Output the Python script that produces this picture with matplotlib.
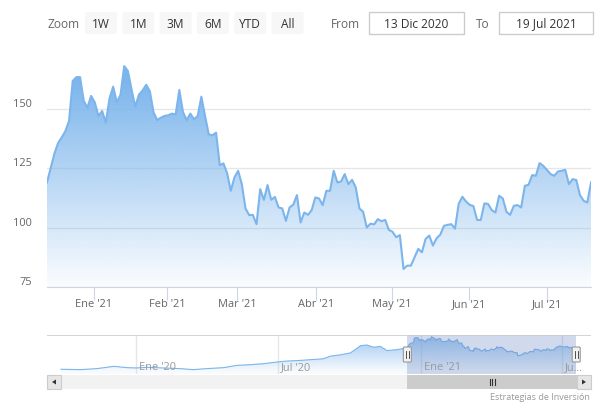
import numpy as np
import pandas as pd
import matplotlib
matplotlib.use('Agg')
from matplotlib import pyplot as plt
from matplotlib import colors as mcolors, dates as mdates, transforms as mtrans
from matplotlib.patches import Rectangle, FancyBboxPatch, Polygon

plt.rcParams['font.family'] = ['Open Sans', 'DejaVu Sans']

# daily closes shown in the main chart (14 Dec 2020 - 19 Jul 2021)
price = [119, 125, 131, 135.5, 137.9, 140.5, 144.8, 161.6, 163.2, 163.2,
         153.2, 150.4, 155.3, 152.6, 146.9, 149, 144.1, 154.2, 159.2, 152.6,
         155.8, 167.8, 165.8, 158.1, 150.8, 155.8, 157.6, 160, 157.2, 148.3,
         145.2, 146.2, 146.9, 147.2, 147.9, 147.5, 157.8, 148.5, 145.2, 147.9,
         145.5, 146.9, 155, 146.9, 139.2, 138.8, 139.9, 126.2, 127, 122.9,
         115.5, 121.1, 123.9, 118.3, 108.1, 105.3, 105.4, 101.5, 116.2, 111.7,
         117.9, 111.7, 112.9, 108.5, 108.1, 102.9, 108.5, 109.7, 113.7, 102.2,
         106.4, 105.4, 107.4, 112.7, 112.3, 109.5, 115.5, 115.5, 123.9, 119,
         119.4, 122.5, 118.3, 120.1, 116.9, 108.1, 106.7, 100.1, 101.7, 101.4,
         103.6, 102.7, 103.3, 99.1, 98.3, 96, 96.9, 82.7, 84.1, 84.1,
         87.6, 91.1, 89.7, 95.3, 96.7, 92.5, 95.6, 97.1, 100.8, 101.2,
         101.5, 99.6, 110, 113, 111, 109.6, 109.1, 103.3, 103.2, 110.2,
         110, 107.4, 106.4, 113.4, 112.3, 106.7, 105.4, 109.2, 109.5, 108.5,
         117.6, 118, 122.1, 121.8, 127.1, 126, 124.3, 122.5, 121.8, 123.6,
         123.9, 124.3, 118.3, 120.4, 120, 113.7, 111.3, 110.6, 119]
start, end = '2020-12-14', '2021-07-19'
holidays = ['2020-12-25', '2021-01-01', '2021-01-18', '2021-02-15',
            '2021-04-02', '2021-05-31', '2021-07-05']
month_labels = ["Ene '21", "Feb '21", "Mar '21", "Abr '21", "May '21", "Jun '21", "Jul '21"]
month_pos = [12.8, 32.6, 51.7, 73.1, 93.9, 114.8, 136.1]
y_ticks = [75, 100, 125, 150]

# older history only visible in the navigator
hist_dates = ['2019-09-26', '2019-10-21', '2019-11-11', '2019-12-03', '2019-12-20',
              '2020-01-01', '2020-01-14', '2020-02-05', '2020-02-26', '2020-03-14',
              '2020-03-31', '2020-04-22', '2020-05-09', '2020-05-26', '2020-06-12',
              '2020-06-29', '2020-07-12', '2020-07-29', '2020-08-16', '2020-08-28',
              '2020-09-06', '2020-09-19', '2020-10-02', '2020-10-15', '2020-10-23',
              '2020-11-01', '2020-11-09', '2020-11-18', '2020-12-01', '2020-12-10']
hist_vals = [22.4, 20.9, 25.3, 35.6, 29.7, 28.3, 31.2, 28.3, 25.3, 20.9,
             25.3, 29.7, 40, 42.9, 47.3, 54.7, 59.1, 62, 66.4, 69.3,
             81.1, 87, 95.7, 128, 131, 120.7, 125.1, 106, 110.4, 116.3]
nav_ticks = ['2020-01-01', '2020-07-01', '2021-01-01', '2021-07-01']
nav_labels = ["Ene '20", "Jul '20", "Ene '21", "Ju..."]

buttons = ['1W', '1M', '3M', '6M', 'YTD', 'All']
date_from, date_to = '13 Dic 2020', '19 Jul 2021'
credit = 'Estrategias de Inversión'

W, H = 599, 410
fig = plt.figure(figsize=(W / 100, H / 100), dpi=100)


def px(l, t, r, b):
    return [l / W, 1 - b / H, (r - l) / W, (b - t) / H]


line_c = '#7cb5ec'


def grad_area(ax, x, y, base, top, a_lo, a_hi, v_lo, v_hi):
    verts = np.column_stack([np.r_[x[0], x, x[-1]], np.r_[base, y, base]])
    clip = Polygon(verts, closed=True, transform=ax.transData)
    yy = np.linspace(top, base, 300)
    g = np.zeros((300, 1, 4))
    g[:, 0, :3] = mcolors.to_rgb(line_c)
    g[:, 0, 3] = a_lo + (a_hi - a_lo) * np.clip((yy - v_lo) / (v_hi - v_lo), 0, 1)
    im = ax.imshow(g, aspect='auto', extent=[x[0], x[-1], base, top],
                   origin='upper', zorder=1, interpolation='bilinear')
    im.set_clip_path(clip)


# ---- main chart
ax = fig.add_axes(px(47, 50, 591, 288.3))
x = np.arange(len(price))
grad_area(ax, x, price, 75, 175, 0.0, 1.0, 72, 162)
ax.plot(x, price, color=line_c, lw=1.5, zorder=3, solid_joinstyle='round')
ax.set_xlim(0, len(price) - 1)
ax.set_ylim(75, 175)
ax.set_yticks(y_ticks)
ax.set_yticklabels([])
ax.yaxis.grid(True, color='#e6e6e6', lw=1)
ax.set_axisbelow(True)
ax.tick_params(axis='y', length=0)
for s in ['top', 'right', 'left']:
    ax.spines[s].set_visible(False)
ax.spines['bottom'].set_color('#ccd6eb')
ax.set_xticks(month_pos, month_labels)
ax.tick_params(axis='x', length=9, color='#ccd6eb', labelcolor='#666666',
               labelsize=7.9, pad=-1)
lab_tr = mtrans.offset_copy(ax.get_yaxis_transform(), fig=fig, x=-15, y=0, units='dots')
for v in y_ticks:
    ax.text(0, v, str(v), transform=lab_tr, ha='right', va='bottom',
            color='#666666', fontsize=7.9)

# ---- navigator
dates = pd.bdate_range(start, end, freq='C', holidays=holidays)
nav_x = mdates.date2num(pd.to_datetime(hist_dates + list(dates)))
nav_y = np.array(hist_vals + price)
nav = fig.add_axes(px(47, 335.7, 591, 375.3))
grad_area(nav, nav_x, nav_y, 0, 177, 0.05, 0.75, 10, 170)
nav.plot(nav_x, nav_y, color=line_c, lw=0.8, zorder=3)
nav.set_xlim(mdates.date2num(pd.Timestamp('2019-09-08')),
             mdates.date2num(pd.Timestamp('2021-08-07')))
nav.set_ylim(0, 177)
nav.set_xticks([])
nav.set_yticks([])
for s in nav.spines.values():
    s.set_visible(False)
nav.axhline(177, color='#cccccc', lw=1.2, zorder=5)
sel0, sel1 = mdates.date2num(dates[0]), mdates.date2num(dates[-1])
nav.axvspan(sel0, sel1, color=(102 / 255, 133 / 255, 194 / 255, 0.3), lw=0, zorder=4)
lbl_tr = mtrans.offset_copy(nav.get_xaxis_transform(), fig=fig, x=3, y=0, units='dots')
for d, lab in zip(nav_ticks, nav_labels):
    xd = mdates.date2num(pd.Timestamp(d))
    nav.axvline(xd, color='#e6e6e6', lw=1, zorder=0)
    nav.text(xd, 0.2, lab, transform=lbl_tr, ha='left', va='center',
             color='#999999', fontsize=7.9, zorder=6)

# ---- overlay in pixel coordinates (toolbar, scrollbar, handles)
ov = fig.add_axes([0, 0, 1, 1], zorder=10)
ov.set_xlim(0, W)
ov.set_ylim(H, 0)
ov.axis('off')
ov.patch.set_alpha(0)

ov.text(47, 24, 'Zoom', ha='left', va='center', color='#666666', fontsize=8.6)
for i, b in enumerate(buttons):
    bx = 85 + i * 37.3
    ov.add_patch(FancyBboxPatch((bx, 13), 32, 22, boxstyle='round,pad=0,rounding_size=2',
                                fc='#f7f7f7', ec='none'))
    ov.text(bx + 16, 24, b, ha='center', va='center', color='#333333', fontsize=8.6)
ov.text(331, 24, 'From', ha='left', va='center', color='#666666', fontsize=8.6)
ov.text(476, 24, 'To', ha='left', va='center', color='#666666', fontsize=8.6)
for (l, r), t in zip([(369, 464), (499, 593)], [date_from, date_to]):
    ov.add_patch(Rectangle((l, 13), r - l, 22, fc='white', ec='#cccccc', lw=1))
    ov.text((l + r) / 2, 24, t, ha='center', va='center', color='#333333', fontsize=8.6)

# scrollbar
ov.add_patch(Rectangle((47, 376), 544, 14, fc='#f2f2f2', ec='none'))
hx0 = nav.transData.transform((sel0, 0))[0]
hx1 = nav.transData.transform((sel1, 0))[0]
ov.add_patch(Rectangle((hx0, 376), 577 - hx0, 14, fc='#cccccc', ec='none'))
gx = (hx0 + 577) / 2
for dx in (-2.5, 0, 2.5):
    ov.plot([gx + dx, gx + dx], [380, 386], color='#333333', lw=0.8)
for l in (47, 577):
    ov.add_patch(Rectangle((l, 376), 14, 14, fc='#e6e6e6', ec='#cccccc', lw=0.8))
ov.add_patch(Polygon([[56, 380.5], [56, 385.5], [52, 383]], closed=True, fc='#333333', ec='none'))
ov.add_patch(Polygon([[582, 380.5], [582, 385.5], [586, 383]], closed=True, fc='#333333', ec='none'))

# navigator handles
for hx in (hx0, hx1):
    ov.add_patch(FancyBboxPatch((hx - 4, 348), 8, 15, boxstyle='round,pad=0,rounding_size=1',
                                fc='#f2f2f2', ec='#999999', lw=0.8))
    for dx in (-1.3, 1.3):
        ov.plot([hx + dx, hx + dx], [352, 359], color='#333333', lw=0.6)

ov.text(590, 398, credit, ha='right', va='center', color='#999999', fontsize=6.5)

plt.savefig('out.png', dpi=100)
